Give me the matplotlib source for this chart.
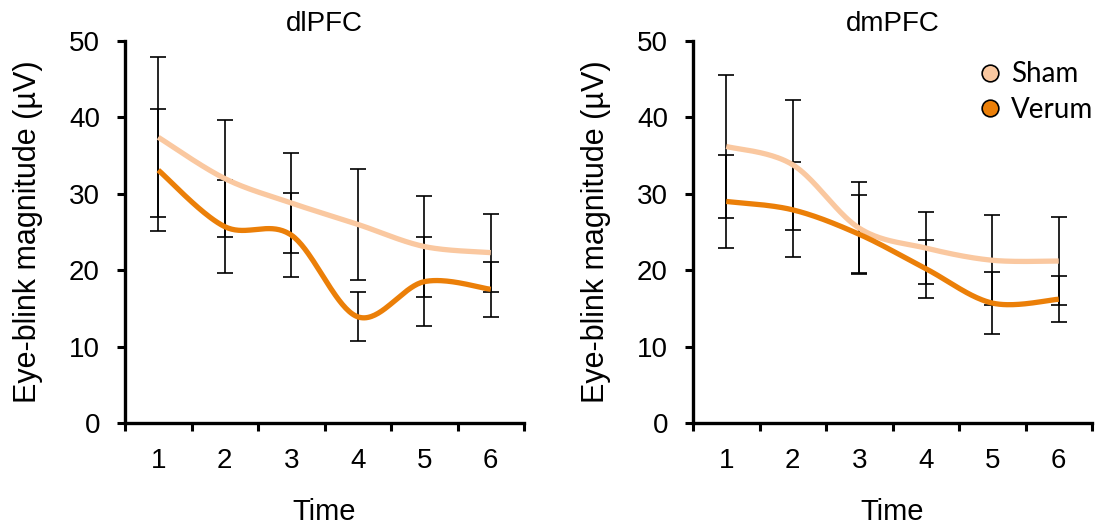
import numpy as np
import matplotlib
matplotlib.use("Agg")
import matplotlib.pyplot as plt
from matplotlib.lines import Line2D

time_labels = ["1", "2", "3", "4", "5", "6"]
x_pos = [1, 2, 3, 4, 5, 6]

dl_sham = [37.4, 32.0, 28.8, 26.0, 23.1, 22.3]
dl_sham_err = [10.5, 7.6, 6.5, 7.3, 6.6, 5.1]
dl_verum = [33.1, 25.7, 24.6, 13.9, 18.5, 17.5]
dl_verum_err = [8.0, 6.1, 5.5, 3.2, 5.8, 3.6]

dm_sham = [36.2, 33.8, 25.5, 22.9, 21.3, 21.2]
dm_sham_err = [9.4, 8.5, 6.0, 4.7, 5.9, 5.7]
dm_verum = [29.0, 27.9, 24.7, 20.2, 15.7, 16.2]
dm_verum_err = [6.1, 6.2, 5.1, 3.8, 4.1, 3.0]

sham_color = "#FAC8A0"
verum_color = "#EB7F08"

TICK_FONT = "Liberation Sans"
LEG_FONT = "Lato"


def smooth(xs, ys, n=40):
    """Catmull-Rom (Excel-like) smoothing through the data points."""
    xs = np.asarray(xs, float)
    ys = np.asarray(ys, float)
    px = np.concatenate([[xs[0]], xs, [xs[-1]]])
    py = np.concatenate([[ys[0]], ys, [ys[-1]]])
    outx, outy = [], []
    t = np.linspace(0, 1, n)
    for i in range(1, len(px) - 2):
        p0x, p1x, p2x, p3x = px[i - 1], px[i], px[i + 1], px[i + 2]
        p0y, p1y, p2y, p3y = py[i - 1], py[i], py[i + 1], py[i + 2]
        c1x = p1x + (p2x - p0x) / 6
        c1y = p1y + (p2y - p0y) / 6
        c2x = p2x - (p3x - p1x) / 6
        c2y = p2y - (p3y - p1y) / 6
        bx = (1 - t) ** 3 * p1x + 3 * (1 - t) ** 2 * t * c1x + 3 * (1 - t) * t ** 2 * c2x + t ** 3 * p2x
        by = (1 - t) ** 3 * p1y + 3 * (1 - t) ** 2 * t * c1y + 3 * (1 - t) * t ** 2 * c2y + t ** 3 * p2y
        outx.append(bx)
        outy.append(by)
    return np.concatenate(outx), np.concatenate(outy)


fig = plt.figure(figsize=(10.95, 5.27), dpi=100)
ax1 = fig.add_axes([125 / 1095, 1 - 423 / 527, 399 / 1095, 382 / 527])
ax2 = fig.add_axes([693 / 1095, 1 - 423 / 527, 399 / 1095, 382 / 527])

panels = [
    (ax1, "dlPFC", dl_sham, dl_sham_err, dl_verum, dl_verum_err),
    (ax2, "dmPFC", dm_sham, dm_sham_err, dm_verum, dm_verum_err),
]

for ax, title, sh, she, ve, vee in panels:
    ax.errorbar(x_pos, sh, yerr=she, fmt="none", ecolor="black", elinewidth=1.2,
                capsize=5.5, capthick=1.2, zorder=2)
    ax.errorbar(x_pos, ve, yerr=vee, fmt="none", ecolor="black", elinewidth=1.2,
                capsize=5.5, capthick=1.2, zorder=2)
    sx, sy = smooth(x_pos, sh)
    vx, vy = smooth(x_pos, ve)
    ax.plot(sx, sy, color=sham_color, lw=3.8, solid_capstyle="butt", zorder=3)
    ax.plot(vx, vy, color=verum_color, lw=3.8, solid_capstyle="butt", zorder=3)

    ax.set_xlim(0.5, 6.5)
    ax.set_ylim(0, 50)
    ax.set_yticks([0, 10, 20, 30, 40, 50])
    ax.set_yticklabels(["0", "10", "20", "30", "40", "50"], fontsize=20, family=TICK_FONT)
    ax.set_xticks(np.arange(0.5, 7.0, 1.0))
    ax.set_xticklabels([""] * 7)
    ax.set_xticks(x_pos, minor=True)
    ax.set_xticklabels(time_labels, minor=True, fontsize=20, family=TICK_FONT)
    ax.tick_params(axis="x", which="major", direction="out", length=6, width=2.2)
    ax.tick_params(axis="x", which="minor", length=0, pad=18)
    ax.tick_params(axis="y", direction="out", length=6, width=2.2, pad=12)
    for s in ("top", "right"):
        ax.spines[s].set_visible(False)
    for s in ("left", "bottom"):
        ax.spines[s].set_linewidth(2.4)
        ax.spines[s].set_color("black")
    ax.set_xlabel("Time", fontsize=21, family=TICK_FONT, labelpad=17)
    ax.set_ylabel("Eye-blink magnitude (µV)", fontsize=22, family=TICK_FONT, labelpad=19)
    ax.set_title(title, fontsize=20, family=TICK_FONT, pad=7)

handles = [
    Line2D([], [], ls="none", marker="o", markersize=12, markerfacecolor=sham_color,
           markeredgecolor="black", markeredgewidth=1.2),
    Line2D([], [], ls="none", marker="o", markersize=12, markerfacecolor=verum_color,
           markeredgecolor="black", markeredgewidth=1.2),
]
ax2.legend(handles, ["Sham", "Verum"], loc="upper right", bbox_to_anchor=(1.045, 0.99),
           frameon=False, prop={"family": LEG_FONT, "size": 20}, handlelength=0.8,
           handletextpad=0.35, labelspacing=0.35, borderaxespad=0.2)

fig.savefig("out.png", dpi=100)
